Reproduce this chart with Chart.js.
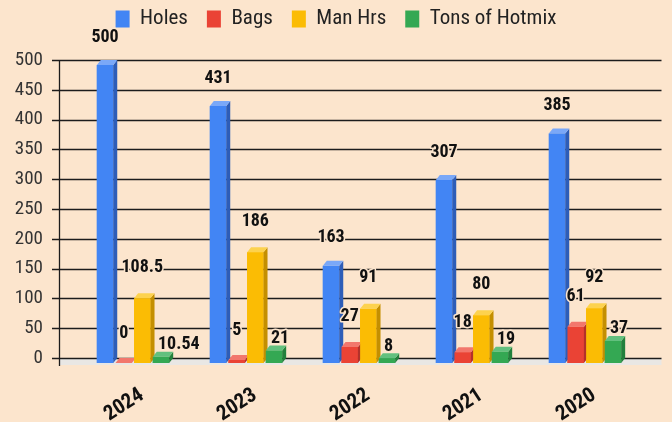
<!DOCTYPE html>
<html>
<head>
<meta charset="utf-8">
<script src="https://cdn.jsdelivr.net/npm/chart.js@4.4.1/dist/chart.umd.min.js"></script>
<style>
  html, body { margin: 0; padding: 0; background: #FCE5CD; }
  canvas { display: block; }
</style>
</head>
<body>
<canvas id="c" width="672" height="422"></canvas>
<script>
// ---- data ----
const categories = ['2024', '2023', '2022', '2021', '2020'];
const holes  = [500, 431, 163, 307, 385];
const bags   = [0, 5, 27, 18, 61];
const manHrs = [108.5, 186, 91, 80, 92];
const hotmix = [10.54, 21, 8, 19, 37];
const yTicks = [0, 50, 100, 150, 200, 250, 300, 350, 400, 450, 500];

// ---- style ----
const BG = '#FCE5CD';
const NARROW = '"Liberation Sans Narrow", "Arial Narrow", "Roboto Condensed", "Liberation Sans", sans-serif';
const DX = 4, DY = 5;
const faces = {
  'Holes':          { front: '#4285F4', side: '#2D5DB8', top: '#7AA8F8', labelDy: -28, align: 'center', labelDx: 0 },
  'Bags':           { front: '#EA4335', side: '#B3312A', top: '#F2776C', labelDy: -30, align: 'center', labelDx: 0 },
  'Man Hrs':        { front: '#FBBC04', side: '#C48F00', top: '#FDD24E', labelDy: -31, align: 'center', labelDx: 0 },
  'Tons of Hotmix': { front: '#34A853', side: '#22803C', top: '#62C07E', labelDy: -12, align: 'left',   labelDx: -3 }
};

const threeD = {
  id: 'threeD',
  beforeDraw(chart) {
    const { ctx } = chart;
    ctx.save();
    ctx.fillStyle = BG;
    ctx.fillRect(0, 0, chart.width, chart.height);
    ctx.restore();
  },
  beforeDatasetsDraw(chart) {
    const { ctx, chartArea: a, scales: { y } } = chart;
    const z = y.getPixelForValue(0);
    const axX = a.left - 17.5;
    const rightX = a.right + 20;
    ctx.save();
    // floor
    ctx.fillStyle = '#E9E7E4';
    ctx.fillRect(axX, z - DY, rightX - axX, DY + 2);
    // back-wall gridlines
    ctx.strokeStyle = '#1c1c1c';
    ctx.lineWidth = 1.3;
    yTicks.forEach(v => {
      const yy = Math.round(y.getPixelForValue(v) - DY) + 0.5;
      ctx.beginPath();
      ctx.moveTo(axX - 7, yy);
      ctx.lineTo(rightX, yy);
      ctx.stroke();
    });
    // vertical axis line
    ctx.beginPath();
    ctx.moveTo(Math.round(axX) + 0.5, y.getPixelForValue(yTicks[yTicks.length - 1]) - DY);
    ctx.lineTo(Math.round(axX) + 0.5, z + 3);
    ctx.stroke();
    ctx.restore();
  },
  afterDatasetsDraw(chart) {
    const { ctx } = chart;
    ctx.save();
    // bars with 3D faces, left to right within a group
    chart.data.datasets.forEach((ds, di) => {
      const f = faces[ds.label];
      const meta = chart.getDatasetMeta(di);
      meta.data.forEach(el => {
        const w = el.width;
        const l = el.x - w / 2, r = el.x + w / 2;
        const t = el.y, b = el.base;
        ctx.fillStyle = f.front;
        ctx.fillRect(l, t, w, b - t);
        ctx.fillStyle = f.side;
        ctx.beginPath();
        ctx.moveTo(r, t); ctx.lineTo(r + DX, t - DY); ctx.lineTo(r + DX, b - DY); ctx.lineTo(r, b);
        ctx.closePath(); ctx.fill();
        ctx.fillStyle = f.top;
        ctx.beginPath();
        ctx.moveTo(l, t); ctx.lineTo(l + DX, t - DY); ctx.lineTo(r + DX, t - DY); ctx.lineTo(r, t);
        ctx.closePath(); ctx.fill();
      });
    });
    // value labels
    ctx.font = 'bold 18px ' + NARROW;
    ctx.textBaseline = 'middle';
    ctx.lineJoin = 'round';
    chart.data.datasets.forEach((ds, di) => {
      const f = faces[ds.label];
      const meta = chart.getDatasetMeta(di);
      meta.data.forEach((el, i) => {
        const txt = String(ds.data[i]);
        const x = el.x + f.labelDx;
        const yy = el.y + f.labelDy;
        ctx.textAlign = f.align;
        ctx.strokeStyle = BG;
        ctx.lineWidth = 3;
        ctx.strokeText(txt, x, yy);
        ctx.fillStyle = '#111';
        ctx.fillText(txt, x, yy);
      });
    });
    ctx.restore();
  }
};

const seriesList = [
  ['Holes', holes],
  ['Bags', bags],
  ['Man Hrs', manHrs],
  ['Tons of Hotmix', hotmix]
];

new Chart(document.getElementById('c'), {
  type: 'bar',
  data: {
    labels: categories,
    datasets: seriesList.map(([label, data]) => ({
      label,
      data,
      backgroundColor: faces[label].front,
      borderWidth: 0,
      categoryPercentage: 0.66,
      barPercentage: 0.88
    }))
  },
  options: {
    responsive: false,
    devicePixelRatio: 1,
    animation: false,
    layout: { padding: { top: -10.5, right: 0, bottom: 0, left: 0 } },
    plugins: {
      legend: {
        position: 'top',
        labels: {
          boxWidth: 14,
          boxHeight: 17,
          padding: 19,
          color: '#222',
          font: { family: NARROW, size: 21 }
        }
      },
      title: {
        display: true,
        text: '',
        weight: 500,
        font: { size: 1, lineHeight: 1 },
        padding: { top: 24.5, bottom: 0 }
      },
      tooltip: { enabled: false }
    },
    scales: {
      x: {
        grid: { display: false, drawTicks: false },
        border: { display: false },
        ticks: {
          minRotation: 33,
          maxRotation: 33,
          padding: 20,
          labelOffset: 9,
          color: '#111',
          font: { family: NARROW, size: 21, weight: 'bold' }
        },
        afterFit(s) { s.height = 59; }
      },
      y: {
        min: 0,
        max: 500,
        grid: { display: false, drawTicks: false },
        border: { display: false },
        afterBuildTicks(s) { s.ticks = yTicks.map(v => ({ value: v })); },
        ticks: {
          padding: 33.5,
          labelOffset: -5,
          color: '#333',
          font: { family: NARROW, size: 19 }
        },
        afterFit(s) { s.width = 76.5; }
      },
      yRight: {
        position: 'right',
        display: true,
        grid: { display: false, drawTicks: false },
        border: { display: false },
        ticks: { display: false },
        afterFit(s) { s.width = 30.5; }
      }
    }
  },
  plugins: [threeD]
});
</script>
</body>
</html>
